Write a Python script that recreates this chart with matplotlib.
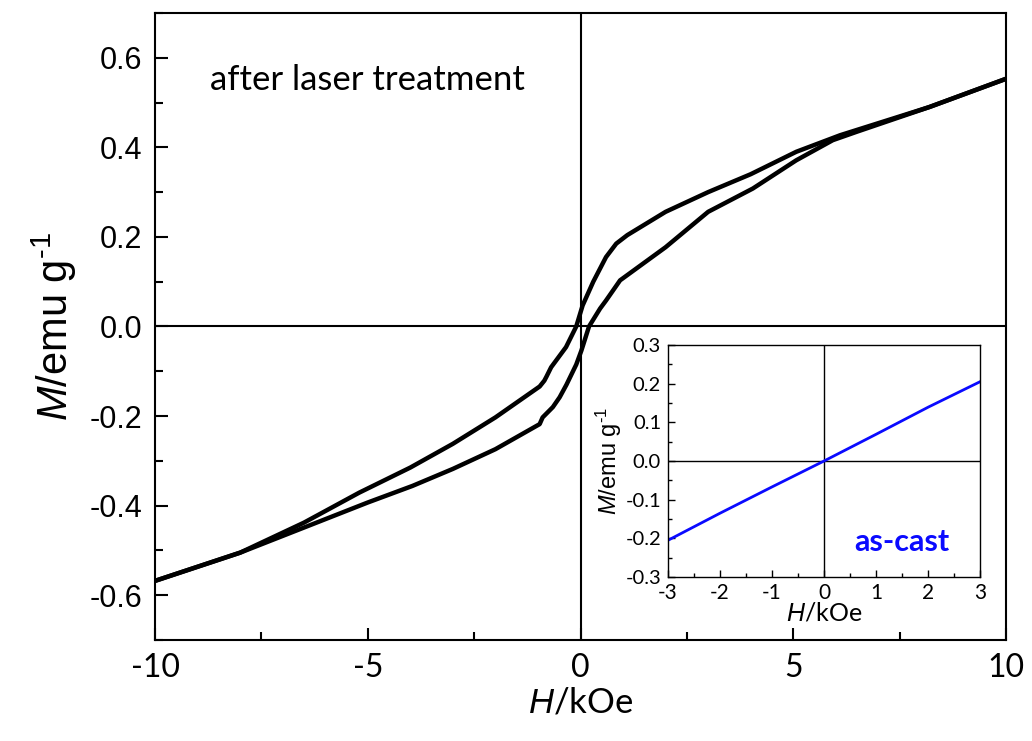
import matplotlib
matplotlib.use("Agg")
import matplotlib.pyplot as plt
from matplotlib.ticker import MultipleLocator

plt.rcParams["mathtext.fontset"] = "custom"
plt.rcParams["mathtext.rm"] = "Liberation Sans"
plt.rcParams["mathtext.it"] = "Liberation Sans:italic"

# ---- data ----
upper_H = [10, 8.2, 6.1, 5.07, 4.0, 3.0, 2.0, 1.1, 0.84, 0.6, 0.3, 0.05, -0.1, -0.34,
           -0.69, -0.8, -0.85, -0.96, -2.0, -3.0, -4.0, -5.2, -6.5, -8.0, -10]
upper_M = [0.553, 0.49, 0.427, 0.39, 0.34, 0.30, 0.256, 0.204, 0.185, 0.155, 0.10, 0.047,
           0.0, -0.046, -0.091, -0.112, -0.121, -0.134, -0.203, -0.262, -0.315, -0.371,
           -0.438, -0.505, -0.568]

lower_H = [-10, -8.0, -6.5, -5.0, -3.95, -3.0, -2.0, -0.96, -0.89, -0.65, -0.49, -0.33,
           -0.1, 0.02, 0.2, 0.46, 0.6, 0.93, 2.0, 3.0, 4.05, 5.07, 5.93, 6.5, 8.2, 10]
lower_M = [-0.568, -0.505, -0.449, -0.393, -0.356, -0.318, -0.274, -0.218, -0.203, -0.18,
           -0.158, -0.13, -0.085, -0.054, 0.0, 0.04, 0.058, 0.103, 0.177, 0.256, 0.308,
           0.371, 0.416, 0.435, 0.49, 0.553]

inset_H = [-3, -2, -1, 0, 1, 2, 3]
inset_M = [-0.205, -0.135, -0.067, 0.0, 0.069, 0.139, 0.205]

main_xticks = [-10, -5, 0, 5, 10]
main_yticks = [-0.6, -0.4, -0.2, 0.0, 0.2, 0.4, 0.6]
inset_xticks = [-3, -2, -1, 0, 1, 2, 3]
inset_yticks = [-0.3, -0.2, -0.1, 0.0, 0.1, 0.2, 0.3]

main_label = "after laser treatment"
inset_label = "as-cast"

SANS = ["Lato", "DejaVu Sans"]
ARIAL = ["Liberation Sans", "DejaVu Sans"]

fig = plt.figure(figsize=(10.32, 7.41), dpi=100)
ax = fig.add_axes([0.1502, 0.1363, 0.8246, 0.8462])

ax.plot(upper_H, upper_M, color="black", lw=3.2, solid_joinstyle="round")
ax.plot(lower_H, lower_M, color="black", lw=3.2, solid_joinstyle="round")
ax.axhline(0, color="black", lw=1.5, zorder=1)
ax.axvline(0, color="black", lw=1.5, zorder=1)

ax.set_xlim(-10, 10)
ax.set_ylim(-0.7, 0.7)
ax.xaxis.set_major_locator(MultipleLocator(5))
ax.xaxis.set_minor_locator(MultipleLocator(2.5))
ax.yaxis.set_major_locator(MultipleLocator(0.2))
ax.yaxis.set_minor_locator(MultipleLocator(0.1))
ax.tick_params(which="both", direction="in", top=False, right=False, width=1.5)
ax.tick_params(which="major", length=9)
ax.tick_params(which="minor", length=6)
for s in ax.spines.values():
    s.set_linewidth(1.5)

ax.set_xticks(main_xticks)
ax.set_xticklabels([str(v) for v in main_xticks], family=SANS, fontsize=23)
ax.set_yticks(main_yticks)
ax.set_yticklabels([f"{v:.1f}" for v in main_yticks], family=ARIAL, fontsize=22)
ax.tick_params(axis="x", pad=9)
ax.tick_params(axis="y", pad=9)

ax.set_xlabel(r"$H$/kOe", fontsize=25, family=SANS, labelpad=3)
ax.set_ylabel(r"$M$/emu g$^{\text{-1}}$", fontsize=30, family=ARIAL, labelpad=8)

ax.text(-8.7, 0.55, main_label, fontsize=25, family=SANS, va="center", ha="left")

# ---- inset ----
ins = fig.add_axes([0.6473, 0.2213, 0.3023, 0.3131])
ins.plot(inset_H, inset_M, color="#0a0aff", lw=2)
ins.axhline(0, color="black", lw=1.0, zorder=1)
ins.axvline(0, color="black", lw=1.0, zorder=1)
ins.set_xlim(-3, 3)
ins.set_ylim(-0.3, 0.3)
ins.xaxis.set_major_locator(MultipleLocator(1))
ins.xaxis.set_minor_locator(MultipleLocator(0.5))
ins.yaxis.set_major_locator(MultipleLocator(0.1))
ins.yaxis.set_minor_locator(MultipleLocator(0.05))
ins.tick_params(which="both", direction="in", top=False, right=False, width=1.0)
ins.tick_params(which="major", length=5)
ins.tick_params(which="minor", length=3)
ins.tick_params(axis="x", pad=4)
ins.tick_params(axis="y", pad=5)
for s in ins.spines.values():
    s.set_linewidth(1.0)
ins.set_xticks(inset_xticks)
ins.set_xticklabels([str(v) for v in inset_xticks], family=SANS, fontsize=15)
ins.set_yticks(inset_yticks)
ins.set_yticklabels([f"{v:.1f}" for v in inset_yticks], family=SANS, fontsize=14.5)
ins.set_xlabel(r"$H$/kOe", fontsize=18, family=SANS, labelpad=-1)
ins.set_ylabel(r"$M$/emu g$^{\text{-1}}$", fontsize=17, family=ARIAL, labelpad=1)
ins.text(1.5, -0.21, inset_label, color="#0a0aff", fontsize=22, fontweight="bold",
         family=SANS, ha="center", va="center")

fig.savefig("out.png", dpi=100)
